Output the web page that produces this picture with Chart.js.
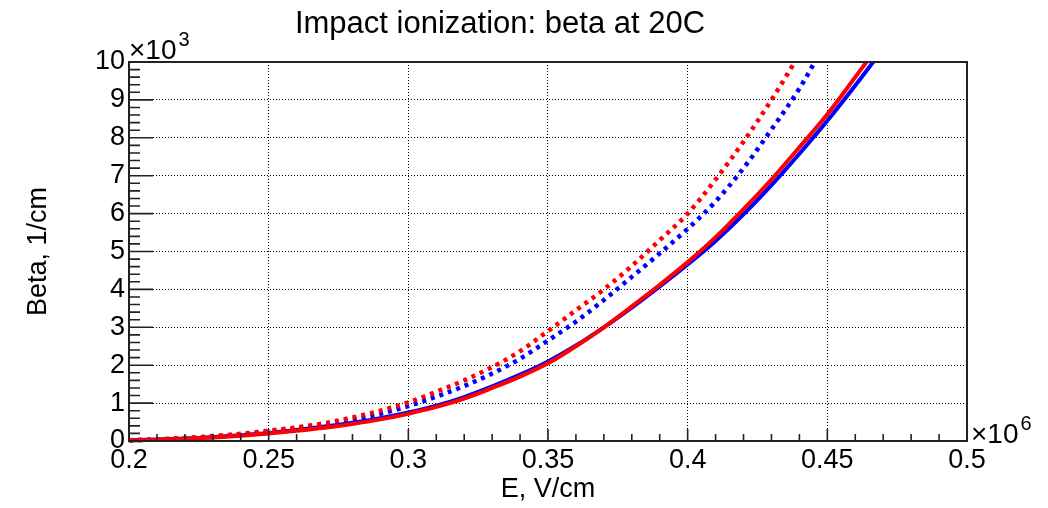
<!DOCTYPE html>
<html>
<head>
<meta charset="utf-8">
<script src="https://cdn.jsdelivr.net/npm/chart.js@4"></script>
<style>
  html, body { margin: 0; padding: 0; background: #fff; }
  #wrap { width: 1048px; height: 508px; }
</style>
</head>
<body>
<div id="wrap"><canvas id="myChart" width="1048" height="508"></canvas></div>
<script>
// E field, in units of 1e6 V/cm
const fieldMV = [0.20, 0.21, 0.22, 0.23, 0.24, 0.25, 0.26, 0.27, 0.28, 0.29,
  0.30, 0.31, 0.32, 0.33, 0.34, 0.35, 0.36, 0.37, 0.38, 0.39,
  0.40, 0.41, 0.42, 0.43, 0.44, 0.45, 0.46, 0.47];

// beta, in units of 1e3 1/cm
const redSolid = [0.01, 0.03, 0.055, 0.09, 0.14, 0.20, 0.27, 0.35, 0.45, 0.57,
  0.72, 0.90, 1.12, 1.40, 1.70, 2.05, 2.50, 3.00, 3.55, 4.12,
  4.72, 5.38, 6.12, 6.90, 7.75, 8.62, 9.60, 10.6];
const blueSolid = [0.02, 0.04, 0.065, 0.10, 0.15, 0.21, 0.29, 0.38, 0.48, 0.60,
  0.75, 0.93, 1.16, 1.44, 1.75, 2.10, 2.52, 3.00, 3.52, 4.08,
  4.66, 5.28, 5.98, 6.75, 7.58, 8.45, 9.38, 10.35];
const redDotted = [0.02, 0.045, 0.08, 0.13, 0.19, 0.27, 0.36, 0.47, 0.62, 0.80,
  1.02, 1.30, 1.60, 1.95, 2.37, 2.90, 3.45, 4.00, 4.62, 5.30,
  6.00, 6.90, 7.90, 9.00, 10.2, null, null, null];
const blueDotted = [0.02, 0.04, 0.07, 0.11, 0.17, 0.25, 0.33, 0.43, 0.56, 0.72,
  0.92, 1.17, 1.45, 1.78, 2.17, 2.65, 3.15, 3.72, 4.33, 4.95,
  5.60, 6.32, 7.20, 8.22, 9.30, 10.6, null, null];

const xTicks = [0.2, 0.25, 0.3, 0.35, 0.4, 0.45, 0.5];
const yTicks = [0, 1, 2, 3, 4, 5, 6, 7, 8, 9, 10];

const FONT = "'Liberation Sans', Arial, sans-serif";
const TITLE = "Impact ionization: beta at 20C";

const toPoints = (ys) => fieldMV.map((x, i) => ({ x: x, y: ys[i] }));

// ROOT-like title, frame, inside tick marks and exponent labels
const rootFrame = {
  id: "rootFrame",
  afterDraw(chart) {
    const ctx = chart.ctx;
    const a = chart.chartArea;
    const xs = chart.scales.x;
    const ys = chart.scales.y;
    ctx.save();

    ctx.fillStyle = "#000";
    ctx.font = "31px " + FONT;
    ctx.textAlign = "center";
    ctx.textBaseline = "alphabetic";
    ctx.fillText(TITLE, 500, 33);

    ctx.strokeStyle = "#222";
    ctx.lineWidth = 2;
    ctx.strokeRect(a.left, a.top, a.right - a.left, a.bottom - a.top);

    ctx.lineWidth = 1.6;
    ctx.beginPath();
    for (let k = 0; k <= 50; k++) {
      const py = ys.getPixelForValue(k * 0.2);
      const len = k % 5 === 0 ? 24 : 11;
      ctx.moveTo(a.left, py);
      ctx.lineTo(a.left + len, py);
    }
    for (let k = 0; k <= 30; k++) {
      const px = xs.getPixelForValue(0.2 + k * 0.01);
      const len = k % 5 === 0 ? 12 : 7;
      ctx.moveTo(px, a.bottom);
      ctx.lineTo(px, a.bottom - len);
    }
    ctx.stroke();

    // exponent labels
    ctx.textAlign = "left";
    ctx.font = "28px " + FONT;
    ctx.fillText("\u00d710", a.left, a.top - 3);
    let w = ctx.measureText("\u00d710").width;
    ctx.font = "20px " + FONT;
    ctx.fillText("3", a.left + w + 2, a.top - 16);

    ctx.font = "28px " + FONT;
    ctx.fillText("\u00d710", a.right + 4, a.bottom + 2);
    w = ctx.measureText("\u00d710").width;
    ctx.font = "20px " + FONT;
    ctx.fillText("6", a.right + 4 + w + 2, a.bottom - 11);
    ctx.restore();
  },
};

const ctx = document.getElementById("myChart");

new Chart(ctx, {
  type: "line",
  data: {
    datasets: [
      {
        label: "red solid",
        data: toPoints(redSolid),
        borderColor: "rgb(255, 0, 0)",
        borderWidth: 4,
      },
      {
        label: "red dotted",
        data: toPoints(redDotted),
        borderColor: "rgb(255, 0, 0)",
        borderWidth: 4.5,
        borderDash: [4, 5],
      },
      {
        label: "blue solid",
        data: toPoints(blueSolid),
        borderColor: "rgb(0, 0, 255)",
        borderWidth: 4,
      },
      {
        label: "blue dotted",
        data: toPoints(blueDotted),
        borderColor: "rgb(0, 0, 255)",
        borderWidth: 4.5,
        borderDash: [4, 5],
      },
    ],
  },
  options: {
    responsive: false,
    animation: false,
    devicePixelRatio: 1,
    layout: { padding: { left: 0, right: 81, top: 62, bottom: 0 } },
    elements: {
      point: { radius: 0 },
      line: { cubicInterpolationMode: "monotone", fill: false },
    },
    datasets: {
      line: { clip: { left: 2, top: 0, right: 0, bottom: 4 } },
    },
    plugins: {
      legend: { display: false },
      tooltip: { enabled: false },
      title: { display: false },
    },
    scales: {
      x: {
        type: "linear",
        min: 0.2,
        max: 0.5,
        afterFit: (s) => { s.height = 67; },
        afterBuildTicks: (s) => { s.ticks = xTicks.map((v) => ({ value: v })); },
        ticks: {
          color: "#000",
          font: { family: FONT, size: 27 },
          padding: 3,
          autoSkip: false,
          maxRotation: 0,
          callback: (v) => String(+v.toFixed(2)),
        },
        grid: { color: "#000", lineWidth: 1, drawTicks: false },
        border: { display: false, dash: [1, 2] },
        title: {
          display: true,
          text: "E, V/cm",
          color: "#000",
          font: { family: FONT, size: 27 },
          padding: { top: 0, bottom: 2 },
        },
      },
      y: {
        type: "linear",
        min: 0,
        max: 10,
        afterFit: (s) => { s.width = 129; },
        afterBuildTicks: (s) => { s.ticks = yTicks.map((v) => ({ value: v })); },
        ticks: {
          color: "#000",
          font: { family: FONT, size: 27 },
          padding: 4,
          autoSkip: false,
          callback: (v) => String(v),
        },
        grid: { color: "#000", lineWidth: 1, drawTicks: false },
        border: { display: false, dash: [1, 2] },
        title: {
          display: true,
          text: "Beta, 1/cm",
          color: "#000",
          font: { family: FONT, size: 27 },
          padding: { top: 22, bottom: 0 },
        },
      },
    },
  },
  plugins: [rootFrame],
});
</script>
</body>
</html>
